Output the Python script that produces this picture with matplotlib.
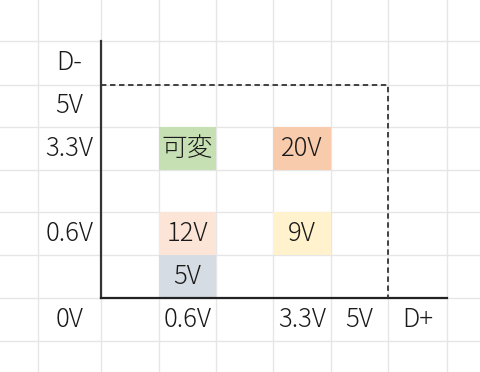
import matplotlib
matplotlib.use("Agg")
import matplotlib.pyplot as plt
from matplotlib.patches import Rectangle

plt.rcParams['font.family'] = ['Noto Sans CJK JP', 'DejaVu Sans']

# ---- data ----
y_axis_labels = ["D-", "5V", "3.3V", "", "0.6V", "", "0V"]      # rows 1..7, column 1
x_axis_labels = ["0.6V", "", "3.3V", "5V", "D+"]                 # columns 3..7, row 7
cell_texts = ["可変", "20V", "12V", "9V", "5V"]
cell_cols = [3, 5, 3, 5, 3]
cell_rows = [3, 3, 5, 5, 6]
cell_colors = ["#C6E0B4", "#F8CBAD", "#FCE4D6", "#FFF2CC", "#D6DCE4"]

# ---- layout (pixel grid of the sheet) ----
col_edges = [0, 38, 101, 159, 216, 273, 331, 388, 447, 480]
row_edges = [0, 41, 85, 127, 170, 212, 255, 298, 341, 372]

W, H = 480, 372
fig = plt.figure(figsize=(W / 100, H / 100), dpi=100)
ax = fig.add_axes([0, 0, 1, 1])
ax.set_xlim(0, W)
ax.set_ylim(H, 0)
ax.axis('off')

grid_c = "#E6E6E6"
for x in col_edges[1:-1]:
    ax.plot([x, x], [0, H], color=grid_c, lw=1, zorder=1)
for y in row_edges[1:-1]:
    ax.plot([0, W], [y, y], color=grid_c, lw=1, zorder=1)

def cell_center(c, r):
    return ((col_edges[c] + col_edges[c + 1]) / 2, (row_edges[r] + row_edges[r + 1]) / 2)

fs = 18.5
tkw = dict(ha='center', va='center', fontsize=fs, color="#1A1A1A", fontweight='light', zorder=4)

for t, c, r, col in zip(cell_texts, cell_cols, cell_rows, cell_colors):
    ax.add_patch(Rectangle((col_edges[c], row_edges[r]), col_edges[c + 1] - col_edges[c],
                           row_edges[r + 1] - row_edges[r], facecolor=col, edgecolor='none', zorder=2))
    cx, cy = cell_center(c, r)
    ax.text(cx, cy, t, **tkw)

for i, t in enumerate(y_axis_labels):
    if t:
        cx, cy = cell_center(1, i + 1)
        ax.text(cx, cy, t, **tkw)
for i, t in enumerate(x_axis_labels):
    if t:
        cx, cy = cell_center(i + 3, 7)
        ax.text(cx, cy, t, **tkw)

# axes lines
ax.plot([col_edges[2], col_edges[2]], [row_edges[1], row_edges[7]], color="#333333", lw=1.6, zorder=5)
ax.plot([col_edges[2], col_edges[8]], [row_edges[7], row_edges[7]], color="#222222", lw=1.6, zorder=5)
# dashed boundary
ax.plot([col_edges[2], col_edges[7], col_edges[7]], [row_edges[2], row_edges[2], row_edges[7]],
        color="#333333", lw=1.3, ls=(0, (3, 2)), zorder=5)

fig.savefig("out.png", dpi=100)
